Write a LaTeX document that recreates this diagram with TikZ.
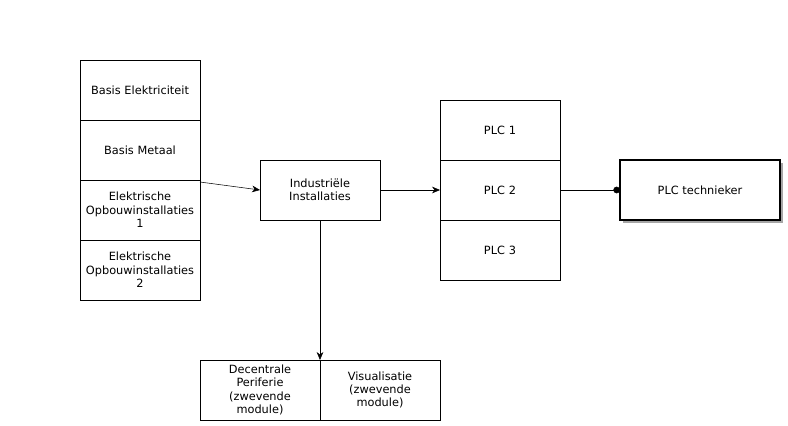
\documentclass[tikz,border=0pt]{standalone}
\usepackage{fontspec}
\setmainfont{DejaVu Sans}
\usetikzlibrary{arrows.meta,positioning,shadows}

\begin{document}
\begin{tikzpicture}[x=0.75pt,y=-0.75pt,>={Stealth[length=6pt,width=5pt]},
                every node/.style={draw, fill=white, align=center, rectangle, minimum height=45pt, minimum width=90pt, inner sep=1pt, outer sep=0pt, font=\fontsize{8.5}{10}\selectfont, line width=0.5pt},
                course/.style={text width=86pt},
                role/.style={minimum width=120pt, line width=1.4pt, drop shadow={shadow xshift=2pt, shadow yshift=-2pt, fill=gray!70, opacity=1}}
                ]
                \useasboundingbox (0,0) rectangle (788,425);
                % left stack
                \node[course] (elek) at (140,90) {Basis Elektriciteit};
                \node[course, below=0pt of elek] (metaal) {Basis Metaal};
                \node[course, below=0pt of metaal] (opbouw1) {Elektrische\\Opbouwinstallaties\\1};
                \node[course, below=0pt of opbouw1] (opbouw2) {Elektrische\\Opbouwinstallaties\\2};
                \node[course] (indus) at (320,190) {Industriële\\Installaties};
                % PLC stack
                \node[course] (plc1) at (500,130) {PLC 1};
                \node[course, below=0pt of plc1] (plc2) {PLC 2};
                \node[course, below=0pt of plc2] (plc3) {PLC 3};
                \node[role] (techn) at (700,190) {PLC technieker};
                % modules
                \node[course] (perif) at (260,390) {Decentrale\\Periferie\\(zwevende\\module)};
                \node[course, right=0pt of perif] (visu) {Visualisatie\\(zwevende\\module)};
                \draw[->] (opbouw1.east |- 0,182) -- (indus.west);
                \draw[->] (indus) -- (plc2);
                \draw[->] (indus.south) -- (perif.north east);
                \draw[-{Circle[length=5pt]}] (plc2) -- (techn);
        \end{tikzpicture}
\end{document}
